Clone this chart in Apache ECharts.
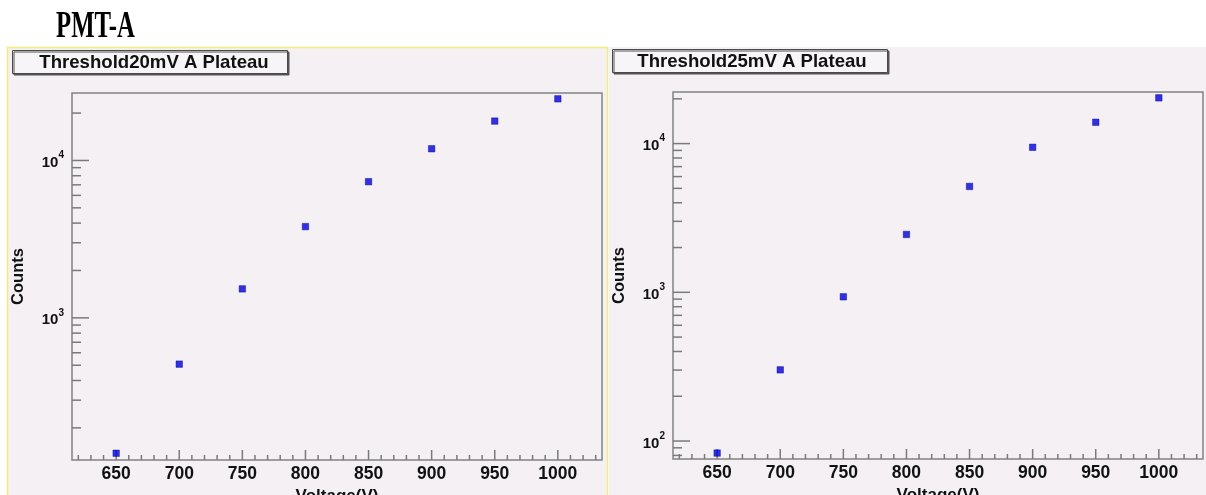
<!DOCTYPE html>
<html><head><meta charset="utf-8">
<script src="https://cdn.jsdelivr.net/npm/echarts@6/dist/echarts.min.js"></script>
<style>html,body{margin:0;padding:0;background:#fff;}#c{width:1206px;height:495px;}</style>
</head><body><div id="c"></div>
<script>
// ---- data ----
const voltages = [650, 700, 750, 800, 850, 900, 950, 1000];
const counts20mV = [138, 508, 1528, 3800, 7330, 11870, 17790, 24640];
const counts25mV = [83, 301, 933, 2449, 5152, 9443, 13910, 20310];
const panelTitles = ['Threshold20mV A Plateau', 'Threshold25mV A Plateau'];
const pageTitle = 'PMT-A';
const xTickLabels = [650, 700, 750, 800, 850, 900, 950, 1000];
const xMinorTicks = [620, 630, 640, 660, 670, 680, 690, 710, 720, 730, 740, 760, 770, 780, 790,
  810, 820, 830, 840, 860, 870, 880, 890, 910, 920, 930, 940, 960, 970, 980, 990, 1010, 1020, 1030];
const xRange = [615, 1035];
const yRange20 = [125, 26830];
const yRange25 = [75.7, 22230];
const yMajor20 = [1000, 10000];
const yMinor20 = [200, 300, 400, 500, 600, 700, 800, 900, 2000, 3000, 4000, 5000, 6000, 7000, 8000, 9000, 20000];
const yMajor25 = [100, 1000, 10000];
const yMinor25 = [80, 90, 200, 300, 400, 500, 600, 700, 800, 900, 2000, 3000, 4000, 5000, 6000, 7000, 8000, 9000, 20000];

const BG = '#f4f0f4';
const FONT = '"Liberation Sans", Arial, Helvetica, sans-serif';

function yLabel(v) {
  const e = Math.log10(v);
  const r = Math.round(e);
  if (Math.abs(e - r) > 1e-6) return '';
  return '{b|10}{s|' + r + '}';
}

function xAxisCfg(gi) {
  return {
    gridIndex: gi, type: 'value', min: xRange[0], max: xRange[1],
    axisLine: {show: false}, axisTick: {show: false}, splitLine: {show: false},
    axisLabel: {customValues: xTickLabels, formatter: v => String(v), fontFamily: FONT, fontWeight: 'bold', fontSize: 17.5, color: '#111', margin: 5},
    name: 'Voltage(V)', nameLocation: 'middle', nameGap: 22,
    nameTextStyle: {fontFamily: FONT, fontWeight: 'bold', fontSize: 17, color: '#111'}
  };
}
function yAxisCfg(gi, range) {
  return {
    gridIndex: gi, type: 'log', logBase: 10, min: range[0], max: range[1],
    axisLine: {show: false}, axisTick: {show: false}, splitLine: {show: false},
    axisLabel: {
      formatter: yLabel, margin: 8, showMinLabel: false, showMaxLabel: false,
      rich: {
        b: {fontFamily: FONT, fontWeight: 'bold', fontSize: 15, color: '#111', verticalAlign: 'bottom', lineHeight: 20},
        s: {fontFamily: FONT, fontWeight: 'bold', fontSize: 10, color: '#111', verticalAlign: 'top', lineHeight: 20}
      }
    },
    name: 'Counts', nameLocation: 'middle', nameGap: 45, nameRotate: 90,
    nameTextStyle: {fontFamily: FONT, fontWeight: 'bold', fontSize: 16.5, color: '#111'}
  };
}
function tickSeries(gi, yMinor, yMajor, yMin) {
  const data = [];
  yMinor.forEach(v => data.push([xRange[0], v, 0]));
  yMajor.forEach(v => data.push([xRange[0], v, 1]));
  xMinorTicks.forEach(v => data.push([v, yMin, 2]));
  xTickLabels.forEach(v => data.push([v, yMin, 3]));
  return {
    type: 'custom', xAxisIndex: gi, yAxisIndex: gi, silent: true, clip: false, z: 3,
    data: data, encode: {x: 0, y: 1},
    renderItem: function (params, api) {
      const cs = params.coordSys;
      const kind = api.value(2);
      const p = api.coord([api.value(0), api.value(1)]);
      let x1, y1, x2, y2;
      if (kind < 2) {
        const len = kind === 1 ? 17 : 9;
        x1 = cs.x; x2 = cs.x + len; y1 = y2 = p[1];
      } else {
        const len = kind === 3 ? 10 : 5;
        y1 = cs.y + cs.height; y2 = y1 - len; x1 = x2 = p[0];
      }
      return {type: 'line', shape: {x1: x1, y1: y1, x2: x2, y2: y2}, style: {stroke: '#7a7a7a', lineWidth: 1.5}};
    }
  };
}
function scatter(gi, vals) {
  return {
    type: 'scatter', xAxisIndex: gi, yAxisIndex: gi, z: 4,
    data: voltages.map((v, i) => [v, vals[i]]),
    symbol: 'rect', symbolSize: 6.5,
    itemStyle: {color: '#0000dd', borderColor: '#00008a', borderWidth: 0.5}
  };
}

const chart = echarts.init(document.getElementById('c'), null, {renderer: 'canvas'});
chart.setOption({
  animation: false,
  backgroundColor: '#ffffff',
  grid: [
    {left: 72, top: 93, width: 530, height: 367, outerBoundsMode: 'none', containLabel: false, show: true, borderColor: '#828282', borderWidth: 1.5, backgroundColor: 'transparent'},
    {left: 673, top: 92, width: 530, height: 367, outerBoundsMode: 'none', containLabel: false, show: true, borderColor: '#828282', borderWidth: 1.5, backgroundColor: 'transparent'}
  ],
  xAxis: [xAxisCfg(0), xAxisCfg(1)],
  yAxis: [yAxisCfg(0, yRange20), yAxisCfg(1, yRange25)],
  series: [
    tickSeries(0, yMinor20, yMajor20, yRange20[0]),
    tickSeries(1, yMinor25, yMajor25, yRange25[0]),
    scatter(0, counts20mV),
    scatter(1, counts25mV)
  ],
  graphic: [
    {type: 'rect', z: -10, shape: {x: 7.5, y: 47.5, width: 600, height: 460}, style: {fill: BG, stroke: '#f4ec78', lineWidth: 1.5}},
    {type: 'rect', z: -10, shape: {x: 609, y: 47, width: 600, height: 460}, style: {fill: BG}},
    {type: 'rect', z: 5, shape: {x: 12.5, y: 50.5, width: 275, height: 23},
      style: {fill: '#f7f5f7', stroke: '#4a4a4a', lineWidth: 1, shadowColor: '#555', shadowOffsetX: 1.5, shadowOffsetY: 1.5, shadowBlur: 0}},
    {type: 'text', z: 6, x: 154, y: 62.5,
      style: {text: panelTitles[0], font: 'bold 18.6px ' + FONT, fill: '#111', textAlign: 'center', textVerticalAlign: 'middle', align: 'center', verticalAlign: 'middle'}},
    {type: 'rect', z: 5, shape: {x: 612.5, y: 49.5, width: 275, height: 23},
      style: {fill: '#f7f5f7', stroke: '#4a4a4a', lineWidth: 1, shadowColor: '#555', shadowOffsetX: 1.5, shadowOffsetY: 1.5, shadowBlur: 0}},
    {type: 'text', z: 6, x: 752, y: 61.5,
      style: {text: panelTitles[1], font: 'bold 18.6px ' + FONT, fill: '#111', textAlign: 'center', textVerticalAlign: 'middle', align: 'center', verticalAlign: 'middle'}},
    {type: 'text', z: 6, x: 56, y: 27.5, scaleX: 0.67,
      style: {text: pageTitle, font: 'bold 37px "Liberation Serif", serif', fill: '#000', textAlign: 'left', textVerticalAlign: 'middle', align: 'left', verticalAlign: 'middle'}}
  ]
});
</script>
</body></html>
